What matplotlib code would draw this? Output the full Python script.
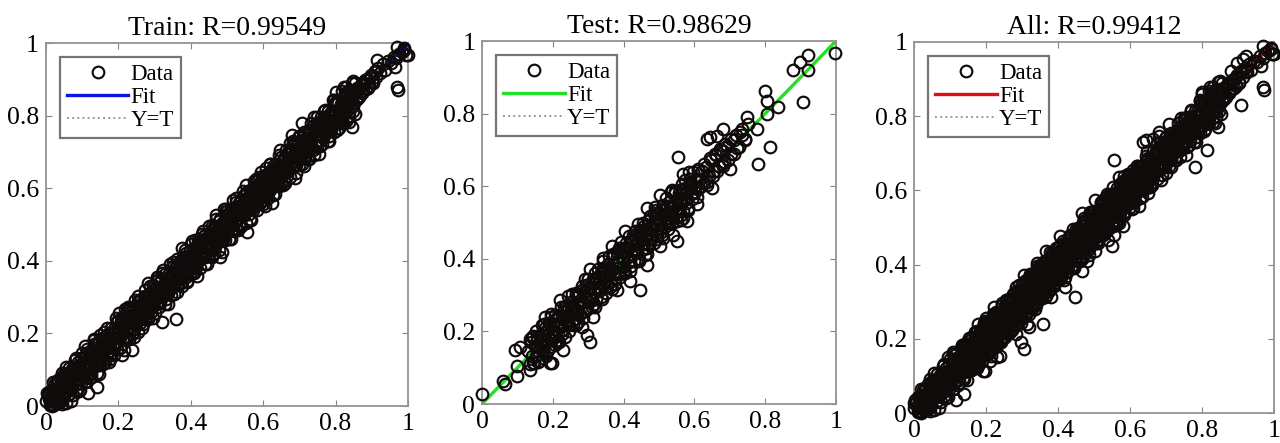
import numpy as np
import matplotlib
matplotlib.use('Agg')
import matplotlib.pyplot as plt

plt.rcParams['font.family'] = ['Liberation Serif', 'DejaVu Serif']

# ---- data (target, output) ----
train_target = [
    0.001, 0.004, 0.006, 0.009, 0.011, 0.014, 0.016, 0.019, 0.021, 0.024,
    0.027, 0.028, 0.032, 0.033, 0.037, 0.038, 0.042, 0.043, 0.047, 0.048,
    0.051, 0.054, 0.056, 0.059, 0.061, 0.064, 0.066, 0.069, 0.071, 0.074,
    0.077, 0.078, 0.082, 0.083, 0.087, 0.088, 0.092, 0.093, 0.097, 0.098,
    0.101, 0.104, 0.106, 0.109, 0.111, 0.114, 0.116, 0.119, 0.121, 0.124,
    0.127, 0.128, 0.132, 0.133, 0.137, 0.138, 0.142, 0.143, 0.147, 0.148,
    0.151, 0.154, 0.156, 0.159, 0.161, 0.164, 0.166, 0.169, 0.171, 0.174,
    0.177, 0.178, 0.182, 0.183, 0.187, 0.188, 0.192, 0.193, 0.197, 0.198,
    0.201, 0.204, 0.206, 0.209, 0.211, 0.214, 0.216, 0.219, 0.221, 0.224,
    0.227, 0.228, 0.232, 0.233, 0.237, 0.238, 0.242, 0.243, 0.247, 0.248,
    0.251, 0.254, 0.256, 0.259, 0.261, 0.264, 0.266, 0.269, 0.271, 0.274,
    0.277, 0.278, 0.282, 0.283, 0.287, 0.288, 0.292, 0.293, 0.297, 0.298,
    0.301, 0.304, 0.306, 0.309, 0.311, 0.314, 0.316, 0.319, 0.321, 0.324,
    0.327, 0.328, 0.332, 0.333, 0.337, 0.338, 0.342, 0.343, 0.347, 0.348,
    0.351, 0.354, 0.356, 0.359, 0.361, 0.364, 0.366, 0.369, 0.371, 0.374,
    0.377, 0.378, 0.382, 0.383, 0.387, 0.388, 0.392, 0.393, 0.397, 0.398,
    0.401, 0.404, 0.406, 0.409, 0.411, 0.414, 0.416, 0.419, 0.421, 0.424,
    0.427, 0.428, 0.432, 0.433, 0.437, 0.438, 0.442, 0.443, 0.447, 0.448,
    0.451, 0.454, 0.456, 0.459, 0.461, 0.464, 0.466, 0.469, 0.471, 0.474,
    0.477, 0.478, 0.482, 0.483, 0.487, 0.488, 0.492, 0.493, 0.497, 0.498,
    0.501, 0.504, 0.506, 0.509, 0.511, 0.514, 0.516, 0.519, 0.521, 0.524,
    0.527, 0.528, 0.532, 0.533, 0.537, 0.538, 0.542, 0.543, 0.547, 0.548,
    0.551, 0.554, 0.556, 0.559, 0.561, 0.564, 0.566, 0.569, 0.571, 0.574,
    0.577, 0.578, 0.582, 0.583, 0.587, 0.588, 0.592, 0.593, 0.597, 0.598,
    0.601, 0.604, 0.606, 0.609, 0.611, 0.614, 0.616, 0.619, 0.621, 0.624,
    0.627, 0.628, 0.632, 0.633, 0.637, 0.638, 0.642, 0.643, 0.647, 0.648,
    0.651, 0.654, 0.656, 0.659, 0.661, 0.664, 0.666, 0.669, 0.671, 0.674,
    0.677, 0.678, 0.682, 0.683, 0.687, 0.688, 0.692, 0.693, 0.697, 0.698,
    0.701, 0.704, 0.706, 0.709, 0.711, 0.714, 0.716, 0.719, 0.721, 0.724,
    0.727, 0.728, 0.732, 0.733, 0.737, 0.738, 0.742, 0.743, 0.747, 0.748,
    0.751, 0.754, 0.756, 0.759, 0.761, 0.764, 0.766, 0.769, 0.771, 0.774,
    0.777, 0.778, 0.782, 0.783, 0.787, 0.788, 0.792, 0.793, 0.797, 0.798,
    0.801, 0.804, 0.806, 0.809, 0.811, 0.814, 0.816, 0.819, 0.821, 0.824,
    0.827, 0.828, 0.832, 0.833, 0.837, 0.838, 0.842, 0.843, 0.847, 0.848,
    0.852, 0.856, 0.861, 0.865, 0.870, 0.874, 0.879, 0.884, 0.888, 0.893,
    0.897, 0.902, 0.908, 0.913, 0.918, 0.924, 0.931, 0.937, 0.944, 0.952,
    0.961, 0.968, 0.975, 0.983, 0.990, 0.995,
    # second pass through the band
    0.013, 0.015, 0.018, 0.020, 0.023, 0.025, 0.028, 0.030, 0.033, 0.035,
    0.038, 0.040, 0.043, 0.045, 0.048, 0.050, 0.053, 0.055, 0.058, 0.060,
    0.063, 0.065, 0.068, 0.070, 0.073, 0.075, 0.078, 0.080, 0.083, 0.085,
    0.088, 0.090, 0.093, 0.095, 0.098, 0.100, 0.103, 0.105, 0.108, 0.110,
    0.113, 0.115, 0.118, 0.120, 0.123, 0.125, 0.128, 0.130, 0.133, 0.135,
    0.138, 0.140, 0.143, 0.145, 0.148, 0.150, 0.153, 0.155, 0.158, 0.160,
    0.163, 0.165, 0.168, 0.170, 0.173, 0.175, 0.178, 0.180, 0.183, 0.185,
    0.188, 0.190, 0.193, 0.195, 0.198, 0.200, 0.203, 0.205, 0.208, 0.210,
    0.213, 0.215, 0.218, 0.220, 0.223, 0.225, 0.228, 0.230, 0.233, 0.235,
    0.238, 0.240, 0.243, 0.245, 0.248, 0.250, 0.253, 0.255, 0.258, 0.260,
    0.263, 0.265, 0.268, 0.270, 0.273, 0.275, 0.278, 0.280, 0.283, 0.285,
    0.288, 0.290, 0.293, 0.295, 0.298, 0.300, 0.303, 0.305, 0.308, 0.310,
    0.313, 0.315, 0.318, 0.320, 0.323, 0.325, 0.328, 0.330, 0.333, 0.335,
    0.338, 0.340, 0.343, 0.345, 0.348, 0.350, 0.353, 0.355, 0.358, 0.360,
    0.363, 0.365, 0.368, 0.370, 0.373, 0.375, 0.378, 0.380, 0.383, 0.385,
    0.388, 0.390, 0.393, 0.395, 0.398, 0.400, 0.403, 0.405, 0.408, 0.410,
    0.413, 0.415, 0.418, 0.420, 0.423, 0.425, 0.428, 0.430, 0.433, 0.435,
    0.438, 0.440, 0.443, 0.445, 0.448, 0.450, 0.453, 0.455, 0.458, 0.460,
    0.463, 0.465, 0.468, 0.470, 0.473, 0.475, 0.478, 0.480, 0.483, 0.485,
    0.488, 0.490, 0.493, 0.495, 0.498, 0.500, 0.503, 0.505, 0.508, 0.510,
    0.513, 0.515, 0.518, 0.520, 0.523, 0.525, 0.528, 0.530, 0.533, 0.535,
    0.538, 0.540, 0.543, 0.545, 0.548, 0.550, 0.553, 0.555, 0.558, 0.560,
    0.563, 0.565, 0.568, 0.570, 0.573, 0.575, 0.578, 0.580, 0.583, 0.585,
    0.588, 0.590, 0.593, 0.595, 0.598, 0.600, 0.603, 0.605, 0.608, 0.610,
    0.613, 0.615, 0.618, 0.620, 0.623, 0.625, 0.628, 0.630, 0.633, 0.635,
    0.638, 0.640, 0.643, 0.645, 0.648, 0.650, 0.653, 0.655, 0.658, 0.660,
    0.663, 0.665, 0.668, 0.670, 0.673, 0.675, 0.678, 0.680, 0.683, 0.685,
    0.688, 0.690, 0.693, 0.695, 0.698, 0.700, 0.703, 0.705, 0.708, 0.710,
    0.713, 0.715, 0.718, 0.720, 0.723, 0.725, 0.728, 0.730, 0.733, 0.735,
    0.738, 0.740, 0.743, 0.745, 0.748, 0.750, 0.753, 0.755, 0.758, 0.760,
    0.763, 0.765, 0.768, 0.770, 0.773, 0.775, 0.778, 0.780, 0.783, 0.785,
    0.788, 0.790, 0.793, 0.795, 0.798, 0.800, 0.803, 0.805, 0.808, 0.810,
    0.813, 0.815, 0.818, 0.820, 0.823, 0.825, 0.828, 0.830, 0.833, 0.835,
    0.838, 0.840, 0.843, 0.845, 0.848, 0.850, 0.853, 0.855, 0.858, 0.860,
    0.866, 0.872, 0.877, 0.882, 0.889, 0.895, 0.903, 0.910,
    # rings along the band edges
    0.055, 0.068, 0.081, 0.094, 0.107, 0.121, 0.134, 0.147, 0.161, 0.174,
    0.188, 0.201, 0.215, 0.228, 0.242, 0.255, 0.269, 0.282, 0.296, 0.309,
    0.323, 0.336, 0.350, 0.363, 0.377, 0.390, 0.404, 0.417, 0.431, 0.444,
    0.458, 0.471, 0.485, 0.498, 0.512, 0.525, 0.539, 0.552, 0.566, 0.579,
    0.593, 0.606, 0.620, 0.633, 0.647, 0.660, 0.674, 0.687, 0.701, 0.714,
    0.728, 0.741, 0.755, 0.768, 0.782, 0.795, 0.809, 0.822, 0.836, 0.849,
    # outliers
    0.116, 0.140, 0.210, 0.238, 0.320, 0.359, 0.480, 0.555, 0.624, 0.845,
    0.707, 0.680, 0.830, 0.800, 0.970, 0.972, 0.914, 0.970, 0.990, 1.000,
    0.964, 0.005, 0.012, 0.018, 0.025, 0.039, 0.058, 0.072,
]
train_output = [
    0.013, 0.035, 0.031, 0.018, 0.042, 0.004, 0.020, 0.035, 0.010, 0.048,
    0.048, 0.036, 0.010, 0.071, 0.034, 0.052, 0.013, 0.070, 0.032, 0.049,
    0.042, 0.087, 0.040, 0.065, 0.030, 0.083, 0.068, 0.045, 0.082, 0.102,
    0.082, 0.065, 0.100, 0.045, 0.111, 0.086, 0.101, 0.073, 0.132, 0.091,
    0.113, 0.086, 0.131, 0.103, 0.142, 0.087, 0.120, 0.135, 0.110, 0.089,
    0.148, 0.136, 0.110, 0.171, 0.134, 0.152, 0.113, 0.170, 0.132, 0.149,
    0.142, 0.187, 0.140, 0.165, 0.130, 0.183, 0.168, 0.145, 0.182, 0.202,
    0.182, 0.165, 0.200, 0.145, 0.211, 0.186, 0.201, 0.173, 0.232, 0.191,
    0.213, 0.186, 0.231, 0.203, 0.242, 0.187, 0.220, 0.235, 0.210, 0.189,
    0.248, 0.236, 0.210, 0.271, 0.234, 0.252, 0.213, 0.270, 0.232, 0.249,
    0.242, 0.287, 0.240, 0.265, 0.230, 0.283, 0.268, 0.245, 0.282, 0.302,
    0.282, 0.265, 0.300, 0.245, 0.311, 0.286, 0.301, 0.273, 0.332, 0.291,
    0.322, 0.312, 0.284, 0.347, 0.308, 0.328, 0.287, 0.346, 0.306, 0.325,
    0.332, 0.315, 0.350, 0.295, 0.361, 0.336, 0.351, 0.323, 0.382, 0.341,
    0.363, 0.336, 0.381, 0.353, 0.392, 0.337, 0.370, 0.385, 0.360, 0.339,
    0.368, 0.411, 0.366, 0.389, 0.356, 0.407, 0.394, 0.369, 0.408, 0.426,
    0.406, 0.391, 0.424, 0.371, 0.435, 0.412, 0.425, 0.399, 0.456, 0.417,
    0.439, 0.410, 0.457, 0.427, 0.468, 0.411, 0.446, 0.459, 0.436, 0.413,
    0.472, 0.462, 0.434, 0.497, 0.458, 0.478, 0.437, 0.496, 0.456, 0.475,
    0.468, 0.511, 0.466, 0.489, 0.456, 0.507, 0.494, 0.469, 0.508, 0.526,
    0.513, 0.486, 0.531, 0.503, 0.542, 0.487, 0.520, 0.535, 0.510, 0.489,
    0.532, 0.515, 0.550, 0.495, 0.561, 0.536, 0.551, 0.523, 0.582, 0.541,
    0.542, 0.587, 0.540, 0.565, 0.530, 0.583, 0.568, 0.545, 0.582, 0.602,
    0.598, 0.586, 0.560, 0.621, 0.584, 0.602, 0.563, 0.620, 0.582, 0.599,
    0.592, 0.637, 0.590, 0.615, 0.580, 0.633, 0.618, 0.595, 0.632, 0.652,
    0.639, 0.610, 0.657, 0.627, 0.668, 0.611, 0.646, 0.659, 0.636, 0.613,
    0.656, 0.641, 0.674, 0.621, 0.685, 0.662, 0.675, 0.649, 0.706, 0.667,
    0.698, 0.686, 0.660, 0.721, 0.684, 0.702, 0.663, 0.720, 0.682, 0.699,
    0.713, 0.686, 0.731, 0.703, 0.742, 0.687, 0.720, 0.735, 0.710, 0.689,
    0.718, 0.761, 0.716, 0.739, 0.706, 0.757, 0.744, 0.719, 0.758, 0.776,
    0.772, 0.762, 0.734, 0.797, 0.758, 0.778, 0.737, 0.796, 0.756, 0.775,
    0.782, 0.765, 0.800, 0.745, 0.811, 0.786, 0.801, 0.773, 0.832, 0.791,
    0.792, 0.837, 0.790, 0.815, 0.780, 0.833, 0.818, 0.795, 0.832, 0.852,
    0.839, 0.810, 0.857, 0.827, 0.868, 0.811, 0.846, 0.859, 0.836, 0.813,
    0.861, 0.842, 0.872, 0.855, 0.884, 0.862, 0.889, 0.872, 0.900, 0.881,
    0.912, 0.893, 0.921, 0.905, 0.930, 0.918, 0.942, 0.925, 0.950, 0.945,
    0.962, 0.958, 0.970, 0.975, 0.985, 0.968,
    # second pass through the band
    0.006, 0.042, 0.016, 0.066, 0.002, 0.034, 0.012, 0.064, 0.050, 0.022,
    0.010, 0.055, 0.092, 0.006, 0.051, 0.087, 0.037, 0.009, 0.084, 0.067,
    0.106, 0.033, 0.079, 0.051, 0.102, 0.031, 0.100, 0.073, 0.131, 0.060,
    0.121, 0.041, 0.112, 0.097, 0.064, 0.145, 0.080, 0.118, 0.066, 0.134,
    0.156, 0.083, 0.129, 0.101, 0.152, 0.081, 0.150, 0.123, 0.181, 0.110,
    0.171, 0.091, 0.162, 0.147, 0.114, 0.195, 0.130, 0.168, 0.116, 0.184,
    0.122, 0.192, 0.166, 0.216, 0.152, 0.184, 0.130, 0.214, 0.200, 0.172,
    0.160, 0.205, 0.242, 0.156, 0.201, 0.237, 0.187, 0.159, 0.234, 0.217,
    0.185, 0.230, 0.267, 0.181, 0.226, 0.262, 0.212, 0.184, 0.259, 0.242,
    0.197, 0.267, 0.241, 0.291, 0.227, 0.259, 0.205, 0.289, 0.275, 0.247,
    0.296, 0.216, 0.287, 0.272, 0.239, 0.320, 0.255, 0.293, 0.241, 0.309,
    0.331, 0.258, 0.304, 0.276, 0.327, 0.256, 0.325, 0.298, 0.356, 0.285,
    0.272, 0.342, 0.316, 0.366, 0.302, 0.334, 0.280, 0.364, 0.350, 0.322,
    0.310, 0.355, 0.392, 0.306, 0.351, 0.387, 0.337, 0.309, 0.384, 0.367,
    0.406, 0.333, 0.379, 0.351, 0.402, 0.331, 0.400, 0.373, 0.431, 0.360,
    0.421, 0.341, 0.412, 0.397, 0.364, 0.445, 0.380, 0.418, 0.366, 0.434,
    0.456, 0.383, 0.429, 0.401, 0.452, 0.381, 0.450, 0.423, 0.481, 0.410,
    0.471, 0.391, 0.462, 0.447, 0.414, 0.495, 0.430, 0.468, 0.416, 0.484,
    0.422, 0.492, 0.466, 0.516, 0.452, 0.484, 0.430, 0.514, 0.500, 0.472,
    0.460, 0.505, 0.542, 0.456, 0.501, 0.537, 0.487, 0.459, 0.534, 0.517,
    0.485, 0.530, 0.567, 0.481, 0.526, 0.562, 0.512, 0.484, 0.559, 0.542,
    0.497, 0.567, 0.541, 0.591, 0.527, 0.559, 0.505, 0.589, 0.575, 0.547,
    0.596, 0.516, 0.587, 0.572, 0.539, 0.620, 0.555, 0.593, 0.541, 0.609,
    0.631, 0.558, 0.604, 0.576, 0.627, 0.556, 0.625, 0.598, 0.656, 0.585,
    0.572, 0.642, 0.616, 0.666, 0.602, 0.634, 0.580, 0.664, 0.650, 0.622,
    0.610, 0.655, 0.692, 0.606, 0.651, 0.687, 0.637, 0.609, 0.684, 0.667,
    0.706, 0.633, 0.679, 0.651, 0.702, 0.631, 0.700, 0.673, 0.731, 0.660,
    0.721, 0.641, 0.712, 0.697, 0.664, 0.745, 0.680, 0.718, 0.666, 0.734,
    0.756, 0.683, 0.729, 0.701, 0.752, 0.681, 0.750, 0.723, 0.781, 0.710,
    0.771, 0.691, 0.762, 0.747, 0.714, 0.795, 0.730, 0.768, 0.716, 0.784,
    0.722, 0.792, 0.766, 0.816, 0.752, 0.784, 0.730, 0.814, 0.800, 0.772,
    0.760, 0.805, 0.842, 0.756, 0.801, 0.837, 0.787, 0.759, 0.834, 0.817,
    0.785, 0.830, 0.867, 0.781, 0.826, 0.862, 0.812, 0.784, 0.859, 0.842,
    0.797, 0.867, 0.841, 0.891, 0.827, 0.859, 0.805, 0.889, 0.875, 0.847,
    0.852, 0.889, 0.868, 0.897, 0.875, 0.905, 0.889, 0.922,
    # rings along the band edges
    0.107, 0.013, 0.128, 0.044, 0.165, 0.076, 0.184, 0.089, 0.205, 0.122,
    0.141, 0.255, 0.155, 0.273, 0.191, 0.304, 0.225, 0.339, 0.243, 0.355,
    0.375, 0.281, 0.397, 0.313, 0.435, 0.345, 0.454, 0.359, 0.475, 0.392,
    0.411, 0.525, 0.425, 0.543, 0.461, 0.574, 0.495, 0.609, 0.513, 0.625,
    0.645, 0.551, 0.667, 0.583, 0.705, 0.615, 0.724, 0.629, 0.745, 0.662,
    0.681, 0.795, 0.695, 0.813, 0.731, 0.844, 0.765, 0.879, 0.783, 0.895,
    # outliers
    0.036, 0.052, 0.140, 0.154, 0.231, 0.240, 0.410, 0.480, 0.559, 0.770,
    0.780, 0.747, 0.880, 0.865, 0.880, 0.871, 0.953, 0.990, 0.980, 0.967,
    0.934, 0.035, 0.003, 0.000, 0.063, 0.077, 0.085, 0.072,
]

test_target = [
    0.131, 0.135, 0.138, 0.141, 0.145, 0.148, 0.152, 0.155, 0.159, 0.162,
    0.166, 0.170, 0.173, 0.176, 0.180, 0.183, 0.187, 0.190, 0.194, 0.197,
    0.201, 0.205, 0.208, 0.211, 0.215, 0.218, 0.222, 0.225, 0.229, 0.232,
    0.236, 0.240, 0.243, 0.246, 0.250, 0.253, 0.257, 0.260, 0.264, 0.267,
    0.271, 0.275, 0.278, 0.281, 0.285, 0.288, 0.292, 0.295, 0.299, 0.302,
    0.306, 0.310, 0.313, 0.316, 0.320, 0.323, 0.327, 0.330, 0.334, 0.337,
    0.341, 0.345, 0.348, 0.351, 0.355, 0.358, 0.362, 0.365, 0.369, 0.372,
    0.376, 0.380, 0.383, 0.386, 0.390, 0.393, 0.397, 0.400, 0.404, 0.407,
    0.411, 0.415, 0.418, 0.421, 0.425, 0.428, 0.432, 0.435, 0.439, 0.442,
    0.446, 0.450, 0.453, 0.456, 0.460, 0.463, 0.467, 0.470, 0.474, 0.477,
    0.481, 0.485, 0.488, 0.491, 0.495, 0.498, 0.502, 0.505, 0.509, 0.512,
    0.516, 0.520, 0.523, 0.526, 0.530, 0.533, 0.537, 0.540, 0.544, 0.547,
    0.551, 0.555, 0.558, 0.561, 0.565, 0.568, 0.572, 0.575, 0.579, 0.582,
    0.586, 0.590, 0.593, 0.596, 0.600, 0.603, 0.607, 0.610, 0.614, 0.617,
    0.622, 0.628, 0.633, 0.641, 0.648, 0.655, 0.661, 0.668, 0.676, 0.684,
    0.693, 0.702, 0.712, 0.721, 0.733, 0.742,
    # second pass through the band
    0.142, 0.145, 0.149, 0.152, 0.156, 0.159, 0.163, 0.166, 0.170, 0.173,
    0.177, 0.180, 0.184, 0.187, 0.191, 0.194, 0.198, 0.201, 0.205, 0.208,
    0.212, 0.215, 0.219, 0.222, 0.226, 0.229, 0.233, 0.236, 0.240, 0.243,
    0.247, 0.250, 0.254, 0.257, 0.261, 0.264, 0.268, 0.271, 0.275, 0.278,
    0.282, 0.285, 0.289, 0.292, 0.296, 0.299, 0.303, 0.306, 0.310, 0.313,
    0.317, 0.320, 0.324, 0.327, 0.331, 0.334, 0.338, 0.341, 0.345, 0.348,
    0.352, 0.355, 0.359, 0.362, 0.366, 0.369, 0.373, 0.376, 0.380, 0.383,
    0.387, 0.390, 0.394, 0.397, 0.401, 0.404, 0.408, 0.411, 0.415, 0.418,
    0.422, 0.425, 0.429, 0.432, 0.436, 0.439, 0.443, 0.446, 0.450, 0.453,
    0.457, 0.460, 0.464, 0.467, 0.471, 0.474, 0.478, 0.481, 0.485, 0.488,
    0.492, 0.495, 0.499, 0.502, 0.506, 0.509, 0.513, 0.516, 0.520, 0.523,
    0.527, 0.530, 0.534, 0.537, 0.541, 0.544, 0.548, 0.551, 0.555, 0.558,
    0.562, 0.565, 0.569, 0.572, 0.576, 0.579, 0.583, 0.586, 0.590, 0.593,
    # upper part of the band and edge rings
    0.602, 0.611, 0.619, 0.626, 0.634, 0.643, 0.651, 0.657, 0.664, 0.671,
    0.678, 0.686, 0.694, 0.703, 0.711, 0.718, 0.726, 0.735, 0.744, 0.752,
    0.152, 0.171, 0.196, 0.218, 0.244, 0.266, 0.291, 0.318, 0.342, 0.367,
    0.393, 0.418, 0.441, 0.466, 0.489, 0.512, 0.537, 0.561, 0.584, 0.607,
    # scattered points
    0.997, 0.921, 0.898, 0.879, 0.921, 0.907, 0.800, 0.805, 0.805, 0.836,
    0.749, 0.777, 0.814, 0.780, 0.644, 0.554, 0.568, 0.681, 0.729, 0.692,
    0.446, 0.297, 0.305, 0.192, 0.099, 0.060, 0.000, 0.093, 0.107, 0.636,
    0.664, 0.680, 0.680, 0.700, 0.636, 0.650, 0.568, 0.580, 0.540, 0.550,
    0.503, 0.503, 0.466, 0.404, 0.367, 0.342, 0.305, 0.466, 0.418, 0.381,
    0.314, 0.283, 0.230, 0.198, 0.221, 0.178, 0.136, 0.099, 0.136, 0.065,
]
test_output = [
    0.146, 0.111, 0.170, 0.133, 0.186, 0.113, 0.158, 0.176, 0.145, 0.119,
    0.193, 0.180, 0.144, 0.220, 0.176, 0.201, 0.150, 0.224, 0.175, 0.199,
    0.189, 0.245, 0.187, 0.219, 0.175, 0.243, 0.225, 0.194, 0.243, 0.268,
    0.242, 0.223, 0.266, 0.201, 0.280, 0.250, 0.269, 0.234, 0.307, 0.258,
    0.298, 0.285, 0.249, 0.325, 0.281, 0.306, 0.255, 0.329, 0.280, 0.304,
    0.321, 0.286, 0.345, 0.308, 0.361, 0.288, 0.333, 0.351, 0.320, 0.294,
    0.347, 0.328, 0.371, 0.306, 0.385, 0.355, 0.374, 0.339, 0.412, 0.363,
    0.364, 0.420, 0.362, 0.394, 0.350, 0.418, 0.400, 0.369, 0.418, 0.443,
    0.426, 0.391, 0.450, 0.413, 0.466, 0.393, 0.438, 0.456, 0.425, 0.399,
    0.473, 0.460, 0.424, 0.500, 0.456, 0.481, 0.430, 0.504, 0.455, 0.479,
    0.469, 0.525, 0.467, 0.499, 0.455, 0.523, 0.505, 0.474, 0.523, 0.548,
    0.522, 0.503, 0.546, 0.481, 0.560, 0.530, 0.549, 0.514, 0.587, 0.538,
    0.566, 0.531, 0.590, 0.553, 0.606, 0.533, 0.578, 0.596, 0.565, 0.539,
    0.613, 0.600, 0.564, 0.640, 0.596, 0.621, 0.570, 0.644, 0.595, 0.619,
    0.641, 0.610, 0.652, 0.628, 0.671, 0.642, 0.685, 0.655, 0.699, 0.667,
    0.709, 0.688, 0.727, 0.706, 0.741, 0.729,
    # second pass through the band
    0.185, 0.113, 0.160, 0.133, 0.185, 0.115, 0.185, 0.159, 0.218, 0.148,
    0.210, 0.131, 0.203, 0.189, 0.157, 0.239, 0.175, 0.214, 0.163, 0.232,
    0.171, 0.242, 0.217, 0.268, 0.205, 0.238, 0.185, 0.270, 0.257, 0.230,
    0.219, 0.265, 0.303, 0.218, 0.264, 0.301, 0.252, 0.225, 0.301, 0.285,
    0.315, 0.236, 0.308, 0.294, 0.262, 0.344, 0.280, 0.319, 0.268, 0.337,
    0.276, 0.347, 0.322, 0.373, 0.310, 0.343, 0.290, 0.375, 0.362, 0.335,
    0.324, 0.370, 0.408, 0.323, 0.369, 0.406, 0.357, 0.330, 0.406, 0.390,
    0.430, 0.358, 0.405, 0.378, 0.430, 0.360, 0.430, 0.404, 0.463, 0.393,
    0.381, 0.452, 0.427, 0.478, 0.415, 0.448, 0.395, 0.480, 0.467, 0.440,
    0.490, 0.411, 0.483, 0.469, 0.437, 0.519, 0.455, 0.494, 0.443, 0.512,
    0.535, 0.463, 0.510, 0.483, 0.535, 0.465, 0.535, 0.509, 0.568, 0.498,
    0.499, 0.545, 0.583, 0.498, 0.544, 0.581, 0.532, 0.505, 0.581, 0.565,
    0.521, 0.592, 0.567, 0.618, 0.555, 0.588, 0.535, 0.620, 0.607, 0.580,
    # upper part of the band and edge rings
    0.583, 0.648, 0.601, 0.662, 0.611, 0.679, 0.627, 0.688, 0.641, 0.702,
    0.661, 0.717, 0.672, 0.731, 0.688, 0.742, 0.709, 0.758, 0.726, 0.771,
    0.201, 0.128, 0.248, 0.172, 0.297, 0.219, 0.345, 0.268, 0.395, 0.316,
    0.446, 0.366, 0.495, 0.414, 0.542, 0.458, 0.590, 0.507, 0.638, 0.552,
    # scattered points
    0.967, 0.962, 0.943, 0.921, 0.921, 0.831, 0.861, 0.834, 0.798, 0.817,
    0.790, 0.757, 0.708, 0.662, 0.736, 0.681, 0.635, 0.757, 0.749, 0.711,
    0.313, 0.191, 0.172, 0.112, 0.076, 0.063, 0.027, 0.150, 0.158, 0.730,
    0.738, 0.698, 0.657, 0.648, 0.602, 0.594, 0.512, 0.504, 0.466, 0.450,
    0.436, 0.575, 0.540, 0.477, 0.436, 0.403, 0.371, 0.384, 0.340, 0.313,
    0.240, 0.213, 0.150, 0.112, 0.286, 0.240, 0.180, 0.104, 0.095, 0.054,
]

titles = ['Train: R=0.99549', 'Test: R=0.98629', 'All: R=0.99412']
fit_colors = ['#0a14e6', '#22e022', '#e01010']
ticks = [0, 0.2, 0.4, 0.6, 0.8, 1]
tick_labels = ['0', '0.2', '0.4', '0.6', '0.8', '1']


def regression_panel(ax, t, y, title, fit_color):
    t = np.asarray(t)
    y = np.asarray(y)
    slope, icept = np.polyfit(t, y, 1)
    xs = np.array([0.0, 1.0])

    ax.plot(xs, slope * xs + icept, color=fit_color, lw=2.4, label='Fit', zorder=2)
    ax.plot(xs, xs, color='#9a94b8', lw=1.4, ls=':', label='Y=T', zorder=1)
    ax.plot(t, y, ls='none', marker='o', ms=8.4, mfc='none', mec='#100b0b',
            mew=1.55, label='Data', zorder=3, clip_on=False)

    ax.set_xlim(0, 1)
    ax.set_ylim(0, 1)
    ax.set_xticks(ticks)
    ax.set_yticks(ticks)
    ax.set_xticklabels(tick_labels)
    ax.set_yticklabels(tick_labels)
    ax.tick_params(direction='in', top=True, right=True, length=4,
                   color='#8a8080', labelsize=18.5, pad=5)
    for sp in ax.spines.values():
        sp.set_color('#9a9090')
        sp.set_linewidth(1.3)
    ax.set_title(title, fontsize=20, pad=6)

    handles, labels = ax.get_legend_handles_labels()
    order = [2, 0, 1]
    leg = ax.legend([handles[i] for i in order], [labels[i] for i in order],
                    loc='upper left', fontsize=16.5, handlelength=2.7,
                    handletextpad=0.1, labelspacing=0.1, borderpad=0.3,
                    borderaxespad=0.6, fancybox=False, numpoints=1)
    leg.get_frame().set_edgecolor('#5a5050')
    leg.get_frame().set_linewidth(1.6)


def main():
    fig = plt.figure(figsize=(12.8, 4.43), dpi=100)
    ax1 = fig.add_axes([0.0359, 0.0835, 0.2828, 0.8194])
    ax2 = fig.add_axes([0.3766, 0.088, 0.2766, 0.8194])
    ax3 = fig.add_axes([0.7141, 0.0677, 0.2813, 0.8375])

    all_target = train_target + test_target
    all_output = train_output + test_output

    regression_panel(ax1, train_target, train_output, titles[0], fit_colors[0])
    regression_panel(ax2, test_target, test_output, titles[1], fit_colors[1])
    regression_panel(ax3, all_target, all_output, titles[2], fit_colors[2])

    fig.savefig('out.png', dpi=100)


if __name__ == '__main__':
    main()
